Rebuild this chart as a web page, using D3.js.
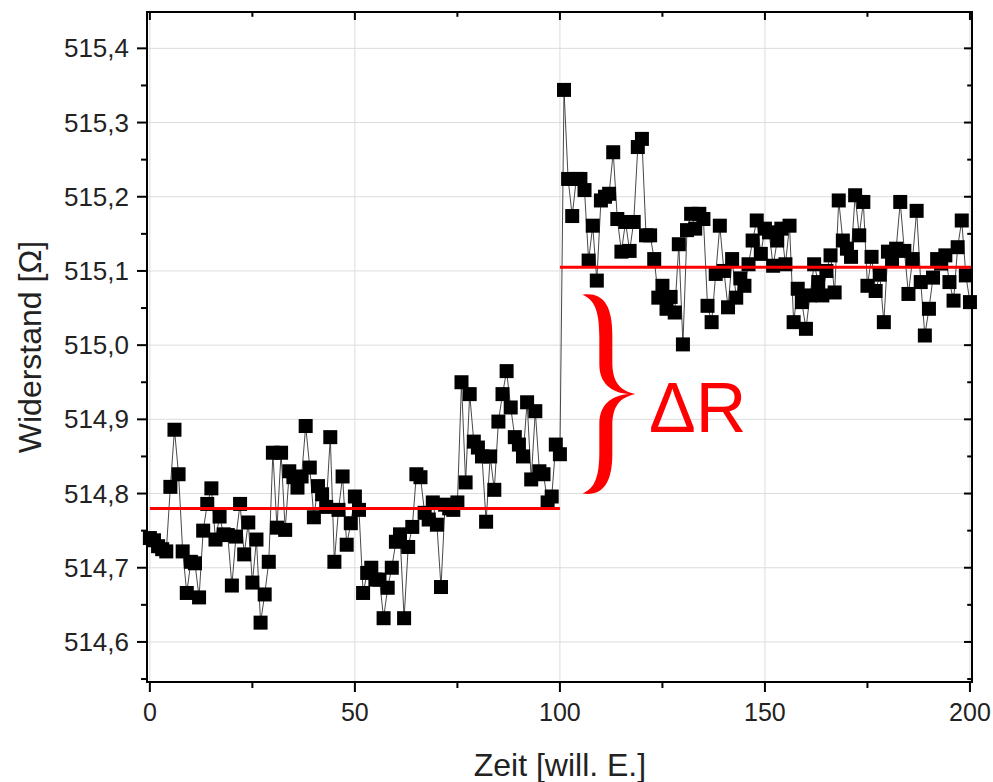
<!DOCTYPE html>
<html><head><meta charset="utf-8">
<script src="https://cdn.jsdelivr.net/npm/d3@7"></script>
<style>body{margin:0;background:#fff}svg{display:block}</style>
</head><body>
<svg id="chart" width="993" height="782"></svg>
<script>
// ---- data ----
const resistance = [
514.740,514.737,514.729,514.725,514.722,514.809,514.886,514.826,514.722,514.666,
514.708,514.706,514.660,514.750,514.786,514.807,514.738,514.769,514.745,514.744,
514.676,514.742,514.786,514.718,514.761,514.680,514.738,514.626,514.664,514.708,
514.855,514.754,514.855,514.751,514.830,514.822,514.808,514.823,514.891,514.835,
514.768,514.810,514.799,514.782,514.876,514.708,514.778,514.823,514.731,514.760,
514.796,514.778,514.666,514.693,514.700,514.684,514.684,514.632,514.673,514.700,
514.735,514.745,514.632,514.728,514.755,514.826,514.822,514.774,514.765,514.788,
514.758,514.674,514.785,514.780,514.778,514.788,514.950,514.815,514.934,514.870,
514.862,514.850,514.762,514.850,514.805,514.897,514.934,514.965,514.916,514.876,
514.866,514.850,514.923,514.819,514.911,514.830,514.826,514.788,514.796,514.866,
514.853,515.344,515.224,515.174,515.224,515.224,515.209,515.114,515.161,515.087,
515.195,515.200,515.204,515.260,515.170,515.126,515.166,515.127,515.166,515.267,
515.278,515.148,515.148,515.116,515.064,515.080,515.049,515.065,515.044,515.136,
515.001,515.155,515.177,515.157,515.177,515.170,515.053,515.031,515.096,515.161,
515.100,515.051,515.116,515.064,515.090,515.080,515.109,515.141,515.168,515.123,
515.157,515.152,515.107,515.141,515.157,515.109,515.161,515.031,515.076,515.058,
515.022,515.067,515.109,515.085,515.067,515.100,515.121,515.071,515.195,515.141,
515.130,515.119,515.202,515.148,515.193,515.080,515.119,515.073,515.095,515.031,
515.126,515.116,515.130,515.193,515.127,515.069,515.116,515.181,515.085,515.013,
515.049,515.091,515.116,515.110,515.121,515.085,515.060,515.132,515.168,515.094,
515.058];
const time = d3.range(0, resistance.length);

const xTicks = [0, 50, 100, 150, 200];
const xMinorTicks = [25, 75, 125, 175];
const yTicks = [514.6, 514.7, 514.8, 514.9, 515.0, 515.1, 515.2, 515.3, 515.4];
const yMinorTicks = [514.55, 514.65, 514.75, 514.85, 514.95, 515.05, 515.15, 515.25, 515.35, 515.45];

// mean levels (red lines)
const levelStart = [0, 100];
const levelEnd = [100, 200.5];
const levelValue = [514.78, 515.105];

// brace annotation (data units)
const braceX = [105.5, 111.2, 118.5];    // ends, spine, tip
const braceY = [514.80, 515.068];        // bottom, top
const deltaLabel = "ΔR";
const deltaPos = [121.7, 514.883];

const xTitle = "Zeit [will. E.]";
const yTitle = "Widerstand [Ω]";

// ---- layout ----
const svg = d3.select("#chart");
const L = 147, R = 972, T = 12, B = 682;
const x = d3.scaleLinear().domain([-0.7, 200.5]).range([L, R]);
const y = d3.scaleLinear().domain([514.546, 515.449]).range([B, T]);
const fmt = d => d.toFixed(1).replace(".", ",");
const FONT = "Liberation Sans, Arial, sans-serif";

// grid
const grid = svg.append("g");
grid.selectAll("line.gx").data(xTicks).join("line")
  .attr("x1", d => x(d)).attr("x2", d => x(d)).attr("y1", T).attr("y2", B)
  .attr("stroke", "#dcdcdc").attr("stroke-width", 1);
grid.selectAll("line.gy").data(yTicks).join("line")
  .attr("x1", L).attr("x2", R).attr("y1", d => y(d)).attr("y2", d => y(d))
  .attr("stroke", "#dcdcdc").attr("stroke-width", 1);

// data line + markers
const pts = time.map((t, i) => [t, resistance[i]]);
svg.append("path").datum(pts)
  .attr("d", d3.line().x(d => x(d[0])).y(d => y(d[1])))
  .attr("fill", "none").attr("stroke", "#333").attr("stroke-width", 0.9);
const S = 14;
svg.append("g").selectAll("rect").data(pts).join("rect")
  .attr("x", d => x(d[0]) - S / 2).attr("y", d => y(d[1]) - S / 2)
  .attr("width", S).attr("height", S).attr("fill", "#000");

// red level lines
svg.append("g").selectAll("line").data(levelValue).join("line")
  .attr("x1", (d, i) => x(levelStart[i])).attr("x2", (d, i) => x(levelEnd[i]))
  .attr("y1", d => y(d)).attr("y2", d => y(d))
  .attr("stroke", "#ff0000").attr("stroke-width", 3);

// brace
(function () {
  const x0 = x(braceX[0]), xc = x(braceX[1]), xt = x(braceX[2]);
  const yT = y(braceY[1]), yB = y(braceY[0]), yM = (yT + yB) / 2;
  const w = 13;
  const hh = yM - yT;
  const half = `M${x0},${yT}
    C${x0 + 20},${yT - 3} ${xc + w / 2},${yT + hh * 0.1} ${xc + w / 2},${yT + hh * 0.4}
    L${xc + w / 2},${yM - hh * 0.32}
    C${xc + w / 2},${yM - hh * 0.1} ${xt - 14},${yM - 3} ${xt},${yM}
    C${xt - 18},${yM + 1} ${xc - w / 2},${yM - hh * 0.06} ${xc - w / 2},${yM - hh * 0.3}
    L${xc - w / 2},${yT + hh * 0.42}
    C${xc - w / 2},${yT + hh * 0.16} ${x0 + 12},${yT + 5} ${x0},${yT} Z`;
  const g = svg.append("g").attr("fill", "#ff0000");
  g.append("path").attr("d", half);
  g.append("path").attr("d", half).attr("transform", `translate(0,${2 * yM}) scale(1,-1)`);
})();

svg.append("text").attr("x", x(deltaPos[0])).attr("y", y(deltaPos[1]))
  .attr("font-family", FONT).attr("font-size", 70).attr("fill", "#ff0000")
  .text(deltaLabel);

// axes
const ax = svg.append("g").attr("font-family", FONT);
ax.append("rect").attr("x", L).attr("y", T).attr("width", R - L).attr("height", B - T)
  .attr("fill", "none").attr("stroke", "#000").attr("stroke-width", 2);

function xticks(vals, len) {
  ax.selectAll(null).data(vals).join("line")
    .attr("x1", d => x(d)).attr("x2", d => x(d)).attr("y1", B).attr("y2", B + len)
    .attr("stroke", "#000").attr("stroke-width", 2);
  ax.selectAll(null).data(vals).join("line")
    .attr("x1", d => x(d)).attr("x2", d => x(d)).attr("y1", T).attr("y2", T + len * 0.8)
    .attr("stroke", "#000").attr("stroke-width", 2);
}
xticks(xTicks, 10);
xticks(xMinorTicks, 6);
function yticks(vals, len) {
  const v = vals.filter(d => y(d) >= T - 0.5 && y(d) <= B + 0.5);
  ax.selectAll(null).data(v).join("line")
    .attr("x1", L - len).attr("x2", L).attr("y1", d => y(d)).attr("y2", d => y(d))
    .attr("stroke", "#000").attr("stroke-width", 2);
  ax.selectAll(null).data(v).join("line")
    .attr("x1", R).attr("x2", R - len * 0.8).attr("y1", d => y(d)).attr("y2", d => y(d))
    .attr("stroke", "#000").attr("stroke-width", 2);
}
yticks(yTicks, 10);
yticks(yMinorTicks, 6);

ax.selectAll("text.xl").data(xTicks).join("text")
  .attr("x", d => x(d)).attr("y", B + 39).attr("text-anchor", "middle")
  .attr("font-size", 25).attr("fill", "#222").text(d => d);
ax.selectAll("text.yl").data(yTicks).join("text")
  .attr("x", L - 18).attr("y", d => y(d) + 9).attr("text-anchor", "end")
  .attr("font-size", 26).attr("fill", "#222").text(fmt);

ax.append("text").attr("x", x(100)).attr("y", 776).attr("text-anchor", "middle")
  .attr("font-size", 32).attr("fill", "#222").text(xTitle);
ax.append("text").attr("transform", `translate(41,${(T + B) / 2}) rotate(-90)`)
  .attr("text-anchor", "middle").attr("font-size", 32).attr("fill", "#222").text(yTitle);
</script>
</body></html>
